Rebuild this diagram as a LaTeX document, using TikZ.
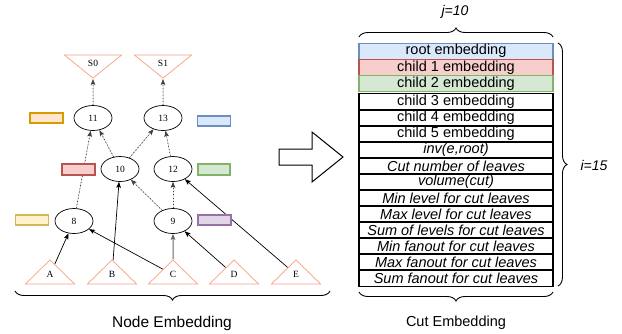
\documentclass[tikz,border=0pt]{standalone}
\usepackage{fontspec}
\setmainfont{Liberation Serif}
\setsansfont{Liberation Sans}
\usetikzlibrary{shapes.geometric,arrows.meta,decorations.pathreplacing}

\definecolor{tri}{RGB}{245,160,130}
\definecolor{blueF}{HTML}{DAE8FC}\definecolor{blueD}{HTML}{6C8EBF}
\definecolor{redF}{HTML}{F8CECC}\definecolor{redD}{HTML}{B85450}
\definecolor{greenF}{HTML}{D5E8D4}\definecolor{greenD}{HTML}{82B366}
\definecolor{orangeF}{HTML}{FFE6CC}\definecolor{orangeD}{HTML}{D79B00}
\definecolor{yellowF}{HTML}{FFF2CC}\definecolor{yellowD}{HTML}{D6B656}
\definecolor{purpleF}{HTML}{E1D5E7}\definecolor{purpleD}{HTML}{9673A6}

\begin{document}
\begin{tikzpicture}[x=1pt,y=-1pt,
  tree/.style={ellipse, draw, fill=white, line width=0.7pt, minimum width=38pt,
    minimum height=25pt, inner sep=0pt, font=\fontsize{9.5}{10}\selectfont},
  leafup/.style={isosceles triangle, isosceles triangle stretches,
    shape border rotate=90, draw=tri, line width=0.7pt, minimum width=49pt,
    minimum height=24pt, inner sep=0pt, font=\fontsize{9.5}{10}\selectfont},
  leafdown/.style={leafup, shape border rotate=-90, minimum width=57pt, minimum height=23pt},
  emb/.style={draw=#1D, fill=#1F, line width=1.1pt, minimum width=33pt,
    minimum height=10pt, inner sep=0pt},
  link/.style={line width=0.7pt, -{Stealth[length=6pt,width=4.6pt,inset=1.2pt]}},
  dotlink/.style={link, dash pattern=on 1pt off 2.2pt, draw=black!75, fill=black},
  row/.style={draw=#1, line width=1.1pt, minimum width=194pt, minimum height=16.2pt,
    inner sep=0pt, font=\sffamily\fontsize{14.5}{14.5}\selectfont},
  row/.default=black,
  irow/.style={row, font=\sffamily\itshape\fontsize{14.5}{14.5}\selectfont},
  bracelin/.style={decorate, decoration={brace, amplitude=9pt}, line width=0.9pt},
  caption/.style={font=\sffamily\fontsize{15.5}{15.5}\selectfont}
]
\useasboundingbox (0,0) rectangle (622,333);

% ---- tree of node embeddings ----
\node[leafdown, anchor=apex] (S0) at (93,79) {S0};
\node[leafdown, anchor=apex] (S1) at (163,79) {S1};
\node[tree] (n11) at (93,118) {11};
\node[tree] (n13) at (163,118) {13};
\node[tree] (n10) at (120,169) {10};
\node[tree] (n12) at (173,169) {12};
\node[tree] (n8) at (74,221) {8};
\node[tree] (n9) at (173,221) {9};
\node[leafup, anchor=apex] (A) at (50,259) {A};
\node[leafup, anchor=apex] (B) at (112,259) {B};
\node[leafup, anchor=apex] (C) at (173,259) {C};
\node[leafup, anchor=apex] (D) at (234,259) {D};
\node[leafup, anchor=apex] (E) at (296,259) {E};

% dotted links between internal nodes
\draw[dotlink] (n11) -- (S0);
\draw[dotlink] (n13) -- (S1);
\draw[dotlink] (n8) -- (n11);
\draw[dotlink] (n10) -- (n11);
\draw[dotlink] (n10) -- (n13);
\draw[dotlink] (n12) -- (n13);
\draw[dotlink] (n9) -- (n10);
\draw[dotlink] (n9) -- (n12);
% solid links from the leaves
\draw[link] (A) -- (n8);
\draw[link] (B) -- (n10);
\draw[link] (C) -- (n8);
\draw[link, draw=black!60, line width=1pt] (C) -- (n9);
\draw[link] (D) -- (n9);
\draw[link] (E) -- (n12);

% embedding tags
\node[emb=orange] (t11) at (46.5,118) {};
\node[emb=blue] (t13) at (214,121) {};
\node[emb=red, minimum height=11pt] (t10) at (78.5,169.5) {};
\node[emb=green, minimum height=11pt, minimum width=32pt] (t12) at (214,169.5) {};
\node[emb=yellow] (t8) at (32,220) {};
\node[emb=purple] (t9) at (214.5,220) {};

\draw[bracelin, decoration={mirror}] (15,291) -- (330,291);
\node[caption] (nodecap) at (172,323) {Node Embedding};

% ---- transition arrow ----
\draw[line width=1pt, line join=miter] (279,149) -- (312,149) -- (312,132) -- (343,157)
  -- (312,182) -- (312,165) -- (279,165) -- cycle;

% ---- cut embedding table ----
\node[row=blueD, fill=blueF] (r1) at (456,51.2) {root embedding};
\node[row=redD, fill=redF] (r2) at (456,67.5) {child 1 embedding};
\node[row=greenD, fill=greenF] (r3) at (456,83.8) {child 2 embedding};
\node[row] (r4) at (456,102) {child 3 embedding};
\node[row] (r5) at (456,118) {child 4 embedding};
\node[row] (r6) at (456,134) {child 5 embedding};
\node[irow] (r7) at (456,150) {inv(e,root)};
\node[irow] (r8) at (456,166) {Cut number of leaves};
\node[irow] (r9) at (456,182) {volume(cut)};
\node[irow] (r10) at (456,198) {Min level for cut leaves};
\node[irow] (r11) at (456,214) {Max level for cut leaves};
\node[irow] (r12) at (456,230) {Sum of levels for cut leaves};
\node[irow] (r13) at (456,246) {Min fanout for cut leaves};
\node[irow] (r14) at (456,262) {Max fanout for cut leaves};
\node[irow] (r15) at (456,278) {Sum fanout for cut leaves};

\draw[bracelin] (359,37) -- (553,37);
\node[font=\sffamily\itshape\fontsize{14}{14}\selectfont] (jlab) at (455,12) {j=10};
\draw[bracelin] (558,43) -- (558,286);
\node[font=\sffamily\itshape\fontsize{14}{14}\selectfont] (ilab) at (594,165) {i=15};
\draw[bracelin, decoration={mirror}] (359,292) -- (553,292);
\node[caption, font=\sffamily\fontsize{14.5}{14.5}\selectfont] (cutcap) at (456,323) {Cut Embedding};
\end{tikzpicture}
\end{document}
